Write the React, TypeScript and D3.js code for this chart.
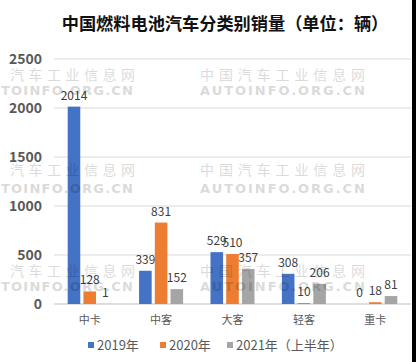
import React from 'react';
import * as d3 from 'd3';

// chart data
const categories = ['中卡', '中客', '大客', '轻客', '重卡'];
const seriesNames = ['2019年', '2020年', '2021年（上半年）'];
const sales2019 = [2014, 339, 529, 308, 0];
const sales2020 = [128, 831, 510, 10, 18];
const sales2021H1 = [1, 152, 357, 206, 81];
const yTicks = [0, 500, 1000, 1500, 2000, 2500];
const colors = ['#4472C4', '#ED7D31', '#A5A5A5'];

const W = 416;
const H = 362;
const FONT = '"Noto Sans CJK SC", "Noto Sans", sans-serif';

export default function App() {
  const series = [sales2019, sales2020, sales2021H1];

  const x = d3.scaleBand<string>().domain(categories).range([54, 411]);
  const xInner = d3.scaleBand<string>().domain(seriesNames).range([-22, 22]).paddingInner(0.2);
  const y = d3.scaleLinear().domain([0, 2500]).range([304, 59]);

  // watermark rows: chinese baseline, latin baseline
  const wmRows = [
    [80, 95],
    [175, 193],
    [276, 291],
  ];

  const legendX = [88, 160, 227];

  return (
    <svg width={W} height={H} style={{ position: 'absolute', left: 0, top: 0, background: '#fff' }} fontFamily={FONT}>
      <rect width={W} height={H} fill="#fff" />

      <text x={225} y={30} textAnchor="middle" fontSize={17.2} fontWeight="bold" fill="#111">
        中国燃料电池汽车分类别销量（单位：辆）
      </text>

      {/* grid + y labels */}
      {yTicks.map((t) => (
        <g key={t}>
          {t > 0 && <line x1={54} x2={411} y1={y(t)} y2={y(t)} stroke="#d9d9d9" strokeWidth={1} />}
          <text x={42} y={y(t)} dy="0.36em" textAnchor="end" fontSize={14} fontWeight="bold" fill="#595959">
            {t}
          </text>
        </g>
      ))}
      <line x1={54} x2={411} y1={y(0)} y2={y(0)} stroke="#bfbfbf" strokeWidth={1} />

      {/* bars */}
      {categories.map((c, i) => (
        <g key={c} transform={`translate(${x(c)! + x.bandwidth() / 2},0)`}>
          {series.map((s, j) => {
            const bx = xInner(seriesNames[j])!;
            const bw = xInner.bandwidth();
            return (
              <g key={j}>
                <rect x={bx} y={y(s[i])} width={bw} height={y(0) - y(s[i])} fill={colors[j]} />
                <text x={bx + bw / 2} y={y(s[i]) - 7} textAnchor="middle" fontSize={12} fill="#404040">
                  {s[i]}
                </text>
              </g>
            );
          })}
          <text x={0} y={324} textAnchor="middle" fontSize={11} fill="#595959">
            {c}
          </text>
        </g>
      ))}

      {/* legend */}
      {seriesNames.map((n, j) => (
        <g key={n}>
          <rect x={legendX[j]} y={342} width={6} height={6} fill={colors[j]} />
          <text x={legendX[j] + 9} y={350} fontSize={13} fill="#595959">
            {n}
          </text>
        </g>
      ))}

      {/* watermark */}
      {wmRows.map(([cy, ey], r) => (
        <g key={r} opacity={0.14} fill="#000">
          <text x={10} y={cy} fontSize={14} textLength={125} lengthAdjust="spacing">
            汽车工业信息网
          </text>
          <text x={1} y={ey} fontSize={13} fontWeight="bold" fontFamily="DejaVu Sans, sans-serif" textLength={132} lengthAdjust="spacing">
            TOINFO.ORG.CN
          </text>
          <text x={200} y={cy} fontSize={14} textLength={165} lengthAdjust="spacing">
            中国汽车工业信息网
          </text>
          <text x={200} y={ey} fontSize={13} fontWeight="bold" fontFamily="DejaVu Sans, sans-serif" textLength={165} lengthAdjust="spacing">
            AUTOINFO.ORG.CN
          </text>
        </g>
      ))}

      <rect x={412} y={0} width={4} height={H} fill="#000" />
    </svg>
  );
}
